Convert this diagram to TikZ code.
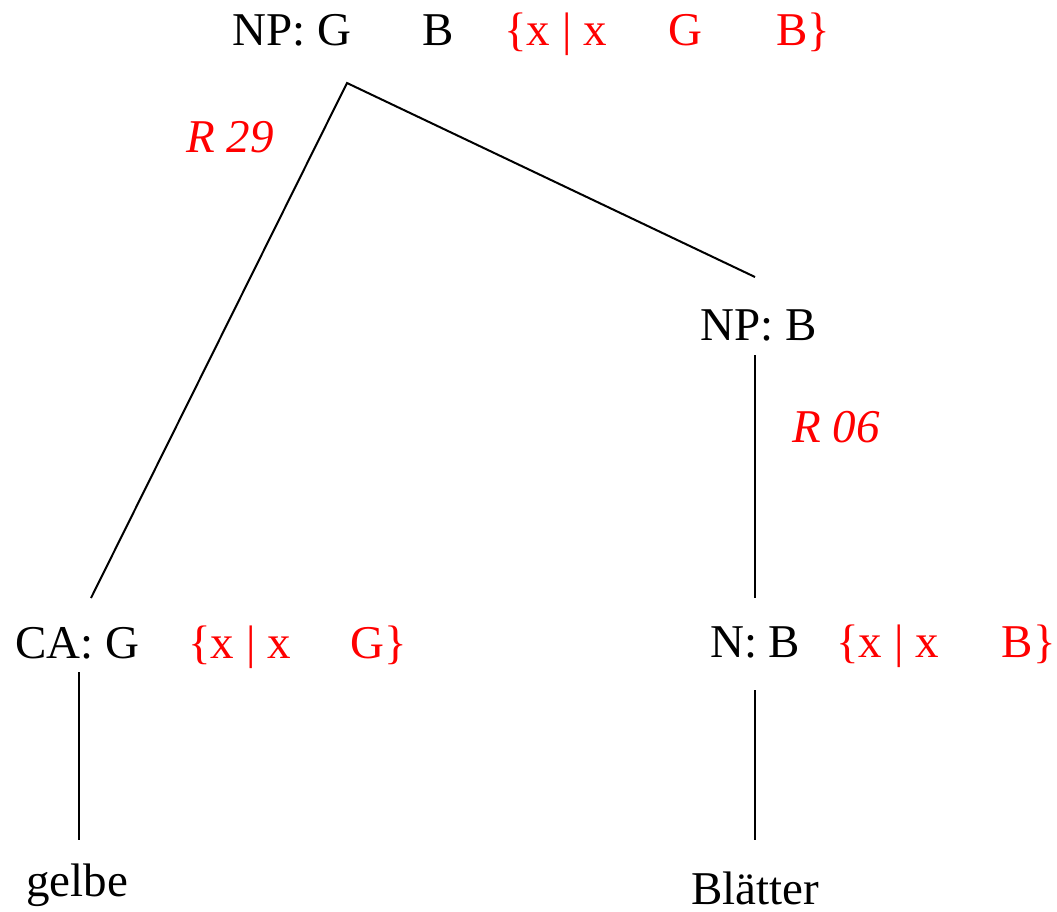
\documentclass[tikz,border=0pt]{standalone}
\usepackage{fontspec}
\setmainfont{Liberation Serif}
\usepackage{tikz}

\begin{document}
\begin{tikzpicture}[x=1pt,y=-1pt]
\tikzstyle{every node}+=[inner sep=0pt, anchor=base west, font=\fontsize{47}{56}\selectfont]
\tikzstyle{sem}=[red]
\tikzstyle{rule}=[red, font=\fontsize{47}{56}\selectfont\itshape]
\tikzstyle{edge}=[black, line width=2pt]
\useasboundingbox (0,0) rectangle (1057,911);
% labels of the tree
\node (np) at (232,45) {NP: G\hspace{72pt}B};
\node [sem] (npsem) at (504,45) {\{x | x\hspace{62pt}G\hspace{73.5pt}B\}};
\node (npb) at (700,340) {NP: B};
\node (ca) at (15,658) {CA: G};
\node [sem] (casem) at (188,658) {\{x | x\hspace{60pt}G\}};
\node (n) at (710,657) {N: B};
\node [sem] (nsem) at (836,657) {\{x | x\hspace{63pt}B\}};
\node (gelbe) at (26,896) {gelbe};
\node (blaetter) at (691,904) {Blätter};
\node [rule] (r29) at (186,152) {R 29};
\node [rule] (r06) at (792,442) {R 06};
% branch ends
\coordinate (top) at (347,83);
\coordinate (catop) at (91,598);
\coordinate (npbtop) at (755,277);
\coordinate (npbbot) at (755,355);
\coordinate (ntop) at (755,598);
\coordinate (cabot) at (79,672);
\coordinate (gelbetop) at (79,840);
\coordinate (nbot) at (755,690);
\coordinate (blaettertop) at (755,840);
\draw [edge] (catop) -- (top) -- (npbtop);
\draw [edge] (npbbot) -- (ntop);
\draw [edge] (cabot) -- (gelbetop);
\draw [edge] (nbot) -- (blaettertop);
\end{tikzpicture}
\end{document}
